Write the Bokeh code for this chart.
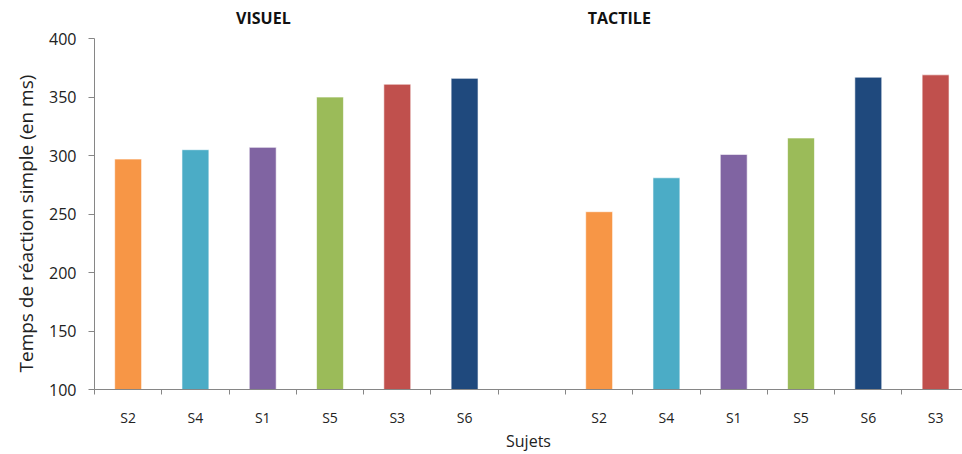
from bokeh.plotting import figure
from bokeh.models import Range1d, FixedTicker, ColumnDataSource, Title
from bokeh.core.properties import value
from bokeh.embed import file_html
from bokeh.resources import INLINE

# Data
visuel_subjects = ["S2", "S4", "S1", "S5", "S3", "S6"]
visuel_values = [297, 305, 307, 350, 361, 366]
tactile_subjects = ["S2", "S4", "S1", "S5", "S6", "S3"]
tactile_values = [252, 281, 301, 315, 367, 369]
subject_colors = {"S2": "#F79646", "S4": "#4BACC6", "S1": "#8064A2",
                  "S5": "#9BBB59", "S3": "#C0504D", "S6": "#1F497D"}
group_titles = ["VISUEL", "TACTILE"]
group_title_x = [2.51, 7.8]
group_title_y = [418, 418]
y_ticks = [100, 150, 200, 250, 300, 350, 400]

labels = visuel_subjects + [""] + tactile_subjects
values = visuel_values + [None] + tactile_values
xs, tops, cols = [], [], []
for i, (lab, v) in enumerate(zip(labels, values)):
    if v is None:
        continue
    xs.append(i + 0.5)
    tops.append(v)
    cols.append(subject_colors[lab])
src = ColumnDataSource(dict(x=xs, top=tops, color=cols))

p = figure(frame_width=868, frame_height=386, output_backend="svg", toolbar_location=None,
           x_range=Range1d(0, 12.9), y_range=Range1d(100, 430),
           min_border_left=94, min_border_right=0, min_border_top=3, min_border_bottom=0)
p.outline_line_color = None
p.xgrid.visible = False
p.ygrid.visible = False

p.vbar(x="x", top="top", bottom=100, width=0.4, color="color", line_color="white",
       line_alpha=0.6, line_width=1, source=src)

font = "Open Sans"
# x axis
centers = [i + 0.5 for i, l in enumerate(labels) if l]
p.xaxis.ticker = FixedTicker(ticks=centers, minor_ticks=list(range(0, 14)))
p.xaxis.major_label_overrides = {i + 0.5: l for i, l in enumerate(labels) if l}
p.xaxis.major_tick_out = 0
p.xaxis.major_tick_in = 0
p.xaxis.minor_tick_out = 5
p.xaxis.minor_tick_in = 0
p.xaxis.axis_line_color = "#868686"
p.xaxis.minor_tick_line_color = "#868686"
p.xaxis.major_label_standoff = 13
p.xaxis.major_label_text_font = font
p.xaxis.major_label_text_font_size = "14px"
p.xaxis.major_label_text_color = "#222222"
p.xaxis.axis_label = "Sujets"
p.xaxis.axis_label_text_font = font
p.xaxis.axis_label_text_font_style = "normal"
p.xaxis.axis_label_text_font_size = "16px"
p.xaxis.axis_label_text_color = "#222222"
p.xaxis.axis_label_standoff = 0

# y axis
p.yaxis.ticker = FixedTicker(ticks=y_ticks)
p.yaxis.bounds = (100, 400)
p.yaxis.major_tick_out = 6
p.yaxis.major_tick_in = 0
p.yaxis.minor_tick_out = 0
p.yaxis.minor_tick_in = 0
p.yaxis.axis_line_color = "#868686"
p.yaxis.major_tick_line_color = "#868686"
p.yaxis.major_label_standoff = 12
p.yaxis.major_label_text_font = font
p.yaxis.major_label_text_font_size = "16px"
p.yaxis.major_label_text_color = "#222222"

p.add_layout(Title(text="Temps de réaction simple (en ms)", align="left", offset=17,
                   standoff=16, text_font=font, text_font_style="normal",
                   text_font_size="19px", text_color="#222222"), "left")

# group titles
p.text(x=group_title_x, y=group_title_y, text=group_titles,
       text_align="center", text_baseline="middle",
       text_font=value("Open Sans"), text_font_style="bold",
       text_font_size="16px", text_color="#111111")

open("out.html", "w").write(file_html(p, INLINE))
